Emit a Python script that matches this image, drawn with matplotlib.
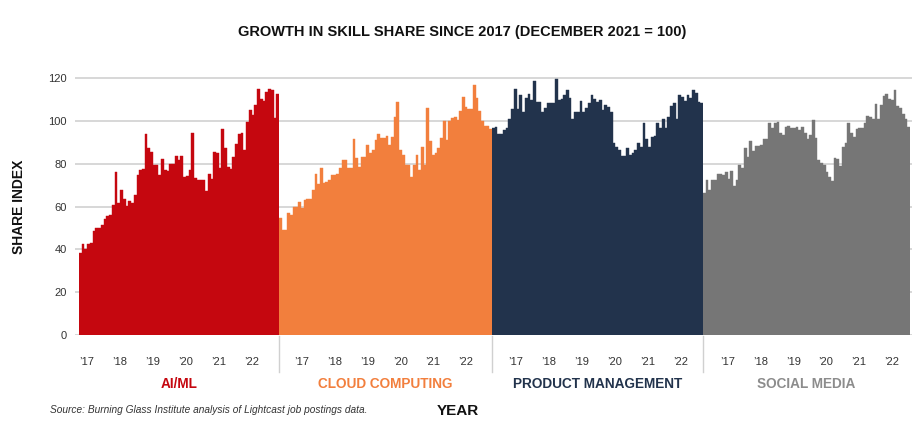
import matplotlib
matplotlib.use("Agg")
import matplotlib.pyplot as plt
from matplotlib import font_manager

avail = {f.name for f in font_manager.fontManager.ttflist}
FONT = "Liberation Sans" if "Liberation Sans" in avail else "DejaVu Sans"
plt.rcParams["font.family"] = [FONT, "DejaVu Sans"]

# ---------------- data ----------------
categories = ["AI/ML", "CLOUD COMPUTING", "PRODUCT MANAGEMENT", "SOCIAL MEDIA"]
year_labels = ["\u201917", "\u201918", "\u201919", "\u201920", "\u201921", "\u201922"]
y_ticks = [0, 20, 40, 60, 80, 100, 120]

ai_ml = [38.5, 42.5, 40, 42.5, 43, 48.5, 50, 50, 51.5, 54,
         55.5, 56, 61, 76, 61.5, 68, 63.5, 60.5, 62.5, 61.5,
         65.5, 75, 77, 77.5, 94, 87.5, 85.5, 79.5, 79.5, 75,
         82.5, 77, 76.5, 80, 80, 83.5, 82, 83.5, 74, 74.5,
         77, 94.5, 73.5, 72.5, 72.5, 72.5, 67.5, 75.5, 73, 85.5,
         85, 78, 96.5, 87.2, 78.5, 77.6, 83, 89.5, 94, 94.4,
         86.3, 99.7, 105.4, 102.8, 107.4, 115.1, 110.5, 109.4, 113.6, 115.1,
         114.4, 101.3, 112.9]

cloud = [54.5, 49, 49, 57, 56, 60, 60, 62.3, 59.2, 63,
         63.4, 63.4, 67.8, 75.5, 70.6, 77.9, 70.9, 71.7, 72.4, 74.8,
         74.8, 75.5, 77.9, 81.8, 81.8, 77.9, 77.9, 91.6, 82.6, 78.7,
         83.3, 83.3, 88.8, 84.9, 86.4, 91.1, 94.2, 91.9, 91.9, 93,
         88.8, 92.7, 102, 108.9, 86.6, 84.3, 79.3, 79.3, 74, 79.3,
         84, 77.3, 87.7, 79.5, 106, 90.5, 84.3, 85, 87.4, 92,
         100, 91.3, 100, 101.4, 102, 100.5, 104.5, 111.5, 106.4, 105.8,
         105.8, 116.7, 110.7, 104.5, 100, 97.5, 97.5, 96.5]

product = [96.6, 97.4, 94, 94, 95.8, 96.6, 101.2, 105.5, 114.8, 105.5,
           112.1, 104.4, 111, 112.9, 109.8, 118.8, 109, 109, 104.4, 106,
           108.6, 108.6, 108.6, 119.6, 110, 110.5, 112, 114.5, 111, 100.8,
           104.4, 104.4, 109.5, 104.4, 105.9, 108.3, 112.1, 110.5, 109, 110,
           105, 107.5, 106.7, 104.4, 89.6, 88, 86.4, 83.6, 83.6, 87.2,
           84.1, 85.2, 86.4, 89.9, 87.7, 98.9, 91.4, 87.7, 92.4, 93,
           98.9, 97, 100.8, 96.6, 102, 107, 108.3, 100.8, 112.1, 111.4,
           109.5, 112.1, 111, 114.5, 113.2, 109, 108.3]

social = [66.5, 72.6, 68, 72.6, 72.6, 75.3, 75.3, 75, 76, 73,
          76.9, 69.8, 72.6, 79.5, 78, 87.3, 83.4, 90.9, 86.2, 88.4,
          88.4, 88.8, 91.5, 91.5, 98.9, 96.6, 98.9, 99.7, 94.3, 93.5,
          97.4, 97.7, 97, 96.6, 97.4, 95.8, 97.4, 94.3, 91.5, 93.5,
          100.5, 91.9, 81.9, 80.6, 79.5, 76.4, 74.1, 71.8, 82.6, 82.2,
          79.1, 88.1, 89.6, 99.2, 94.3, 92.4, 96.1, 96.6, 96.6, 98.9,
          102.3, 101.7, 101.2, 108.2, 101.2, 107.4, 111.6, 112.9, 110.5, 109.8,
          114.7, 107, 105.9, 103.3, 100.8, 97.4]

series = [ai_ml, cloud, product, social]
colors = ["#c5070f", "#f27f3d", "#22334c", "#767676"]
label_colors = ["#c5070f", "#f27f3d", "#22334c", "#8c8c8c"]

# ---------------- layout (pixels) ----------------
W, H = 924, 437
fig = plt.figure(figsize=(W / 100, H / 100), dpi=100)

def rect(x0, x1, ytop, ybot):
    return [x0 / W, (H - ybot) / H, (x1 - x0) / W, (ybot - ytop) / H]

YBOT = 335.0
PX_PER_UNIT = 2.139
YMAX = 121
YTOP = YBOT - YMAX * PX_PER_UNIT

# background axes: gridlines + y ticks
bg = fig.add_axes(rect(75, 912, YTOP, YBOT))
bg.set_ylim(0, YMAX)
bg.set_xlim(0, 1)
bg.set_yticks(y_ticks)
bg.set_yticklabels([str(v) for v in y_ticks], fontsize=8, color="#333333")
bg.tick_params(axis="y", length=0, pad=6)
bg.set_xticks([])
for v in y_ticks:
    bg.axhline(v, color="#d4d4d4", lw=1.3, zorder=0)
for s in bg.spines.values():
    s.set_visible(False)
bg.patch.set_visible(False)

panel_px = [(79, 279), (279, 492), (492, 703), (703, 910)]
first_tick = [2.4, 7.9, 8.3, 8.7]

for vals, col, (x0, x1), ft, cat, lc in zip(series, colors, panel_px, first_tick,
                                            categories, label_colors):
    ax = fig.add_axes(rect(x0, x1, YTOP, YBOT))
    n = len(vals)
    ax.bar(range(n), vals, width=1.0, color=col, edgecolor=col, linewidth=0.3)
    ax.set_xlim(-0.5, n - 0.5)
    ax.set_ylim(0, YMAX)
    ax.set_yticks([])
    ax.set_xticks([ft + 12 * k for k in range(len(year_labels))])
    ax.set_xticklabels(year_labels, fontsize=8, color="#333333")
    ax.tick_params(axis="x", length=0, pad=16)
    for s in ax.spines.values():
        s.set_visible(False)
    ax.patch.set_visible(False)
    fig.text((x0 + x1) / 2 / W, 1 - 384 / H, cat, ha="center", va="center",
             fontsize=9.8, fontweight="bold", color=lc)

# separators between panels
for xs in [279, 492, 703]:
    fig.add_artist(plt.Line2D([xs / W, xs / W], [1 - 336 / H, 1 - 372 / H],
                              color="#d0d0d0", lw=1))

fig.text(462 / W, 1 - 32 / H, "GROWTH IN SKILL SHARE SINCE 2017 (DECEMBER 2021 = 100)",
         ha="center", va="center", fontsize=10.5, fontweight="bold", color="#111111")
fig.text(19 / W, 1 - 207 / H, "SHARE INDEX", rotation=90, ha="center", va="center",
         fontsize=10, fontweight="bold", color="#111111")
fig.text(50 / W, 1 - 410 / H,
         "Source: Burning Glass Institute analysis of Lightcast job postings data.",
         ha="left", va="center", fontsize=7.3, style="italic", color="#333333")
fig.text(458 / W, 1 - 411 / H, "YEAR", ha="center", va="center",
         fontsize=11, fontweight="bold", color="#111111")

fig.savefig("out.png", dpi=100)
